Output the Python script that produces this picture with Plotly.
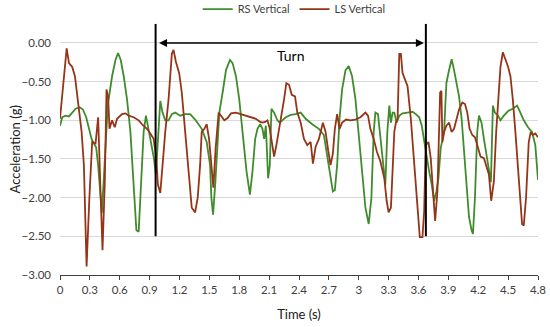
import plotly.graph_objects as go

# LS Vertical (brown)
ls_t = [0.0, 0.03, 0.067, 0.09, 0.123, 0.15, 0.18, 0.217, 0.24, 0.267, 0.295, 0.323, 0.357, 0.383,
        0.407, 0.427, 0.45, 0.467, 0.483, 0.497, 0.523, 0.55, 0.573, 0.6, 0.623, 0.657, 0.69, 0.74,
        0.79, 0.83, 0.873, 0.907, 0.94, 0.967, 0.983, 1.007, 1.023, 1.057, 1.09, 1.123, 1.14, 1.163,
        1.197, 1.223, 1.257, 1.29, 1.323, 1.357, 1.383, 1.407, 1.423, 1.45, 1.473, 1.497, 1.517, 1.54,
        1.563, 1.593, 1.617, 1.65, 1.683, 1.717, 1.767, 1.817, 1.867, 1.917, 1.967, 2.01, 2.033, 2.06,
        2.083, 2.105, 2.127, 2.15, 2.173, 2.2, 2.22, 2.25, 2.273, 2.3, 2.327, 2.36, 2.383, 2.417, 2.45,
        2.483, 2.517, 2.54, 2.567, 2.6, 2.64, 2.667, 2.693, 2.717, 2.74, 2.76, 2.783, 2.807, 2.833,
        2.873, 2.917, 2.967, 3.017, 3.067, 3.093, 3.117, 3.15, 3.183, 3.217, 3.257, 3.28, 3.3, 3.323,
        3.34, 3.357, 3.373, 3.39, 3.407, 3.423, 3.44, 3.467, 3.49, 3.523, 3.557, 3.59, 3.613, 3.64,
        3.657, 3.673, 3.7, 3.723, 3.747, 3.767, 3.79, 3.817, 3.83, 3.84, 3.857, 3.88, 3.907, 3.933,
        3.957, 3.98, 4.007, 4.04, 4.067, 4.09, 4.113, 4.14, 4.167, 4.19, 4.223, 4.257, 4.28, 4.307,
        4.33, 4.357, 4.38, 4.4, 4.423, 4.447, 4.473, 4.5, 4.523, 4.547, 4.573, 4.607, 4.64, 4.657,
        4.68, 4.707, 4.727, 4.747, 4.773, 4.8]
ls_v = [-0.98, -0.55, -0.07, -0.26, -0.31, -0.43, -0.73, -1.15, -1.58, -2.89, -2.0, -1.28, -1.30, -0.96,
        -1.92, -2.68, -1.79, -0.60, -0.69, -1.11, -1.00, -1.09, -0.98, -0.94, -0.92, -0.91, -0.94, -0.96,
        -1.00, -1.06, -1.11, -1.17, -1.24, -1.49, -1.83, -1.94, -1.66, -1.15, -0.73, -0.14, -0.09, -0.24,
        -0.39, -0.64, -1.15, -1.66, -2.13, -2.19, -2.00, -1.58, -1.15, -1.11, -1.05, -1.24, -1.58, -1.87,
        -1.36, -0.90, -0.94, -1.00, -0.97, -0.91, -0.90, -0.92, -0.94, -0.96, -0.98, -1.02, -1.03, -1.02,
        -1.00, -1.10, -1.28, -1.47, -1.32, -1.11, -1.00, -0.73, -0.52, -0.54, -0.67, -0.69, -0.90, -1.03, -1.24,
        -1.32, -1.28, -1.56, -1.34, -1.24, -1.03, -1.15, -1.39, -1.58, -1.43, -1.11, -0.92, -1.11, -1.03,
        -0.99, -1.00, -0.99, -0.96, -0.90, -0.94, -1.11, -1.24, -1.41, -1.53, -1.75, -2.04, -2.19, -2.13,
        -1.58, -1.15, -1.03, -0.98, -0.14, -0.14, -0.39, -0.47, -0.56, -0.98, -1.58, -2.17, -2.51, -2.51,
        -2.17, -1.32, -1.28, -1.49, -1.92, -2.30, -1.92, -0.64, -0.62, -1.28, -1.15, -1.07, -1.03, -1.15,
        -1.11, -0.98, -0.86, -0.77, -0.79, -0.90, -1.11, -1.19, -1.22, -1.32, -1.47, -1.49, -1.58, -1.70,
        -2.04, -1.79, -1.15, -0.73, -0.31, -0.12, -0.22, -0.31, -0.43, -0.73, -1.15, -1.79, -2.34, -2.36,
        -2.00, -1.28, -1.15, -1.19, -1.17, -1.22]

# RS Vertical (green)
rs_t = [0.0, 0.023, 0.057, 0.09, 0.123, 0.157, 0.197, 0.23, 0.263, 0.29, 0.317, 0.34, 0.363, 0.383,
        0.405, 0.42, 0.44, 0.46, 0.48, 0.523, 0.557, 0.583, 0.61, 0.64, 0.673, 0.707, 0.74, 0.767,
        0.79, 0.817, 0.84, 0.863, 0.89, 0.923, 0.943, 0.963, 0.99, 1.007, 1.03, 1.057, 1.09, 1.123,
        1.157, 1.207, 1.257, 1.307, 1.357, 1.423, 1.473, 1.507, 1.52, 1.537, 1.56, 1.59, 1.6, 1.633,
        1.667, 1.707, 1.733, 1.767, 1.8, 1.833, 1.873, 1.907, 1.933, 1.96, 1.983, 2.01, 2.033, 2.05,
        2.067, 2.09, 2.107, 2.123, 2.15, 2.183, 2.207, 2.233, 2.267, 2.317, 2.367, 2.417, 2.467, 2.533,
        2.6, 2.65, 2.683, 2.717, 2.74, 2.76, 2.783, 2.807, 2.833, 2.867, 2.9, 2.933, 2.967, 3.0, 3.033,
        3.067, 3.1, 3.127, 3.15, 3.167, 3.193, 3.223, 3.247, 3.267, 3.287, 3.307, 3.323, 3.34, 3.357,
        3.38, 3.407, 3.44, 3.49, 3.54, 3.573, 3.607, 3.633, 3.657, 3.68, 3.707, 3.733, 3.757, 3.78,
        3.8, 3.823, 3.857, 3.88, 3.907, 3.933, 3.957, 3.98, 4.007, 4.033, 4.057, 4.08, 4.107, 4.133,
        4.147, 4.167, 4.19, 4.207, 4.233, 4.257, 4.28, 4.307, 4.327, 4.347, 4.367, 4.4, 4.423, 4.457,
        4.5, 4.547, 4.59, 4.623, 4.657, 4.7, 4.74, 4.773, 4.8]
rs_v = [-1.07, -0.96, -0.94, -0.95, -0.90, -0.85, -0.83, -0.86, -0.96, -1.09, -1.24, -1.30, -1.35, -1.58,
        -2.00, -2.20, -1.75, -1.20, -0.80, -0.43, -0.22, -0.13, -0.22, -0.43, -0.73, -1.15, -1.79, -2.42,
        -2.44, -1.79, -1.15, -0.94, -1.11, -1.36, -1.49, -1.70, -1.15, -0.75, -0.90, -1.00, -1.00, -0.92,
        -0.90, -0.94, -0.92, -0.92, -0.99, -1.11, -1.28, -1.58, -2.00, -2.22, -1.80, -1.15, -0.90, -0.64,
        -0.35, -0.22, -0.26, -0.43, -0.73, -1.15, -1.66, -1.96, -1.66, -1.24, -1.11, -1.05, -1.11, -1.24,
        -1.07, -1.75, -1.58, -0.85, -0.90, -1.00, -1.03, -1.00, -0.96, -0.93, -0.92, -0.90, -0.98, -1.05,
        -1.11, -1.19, -1.45, -1.75, -1.92, -1.90, -1.58, -0.98, -0.60, -0.35, -0.30, -0.43, -0.73, -1.19, -1.70,
        -2.13, -2.34, -2.00, -1.15, -0.90, -0.92, -1.32, -1.58, -1.83, -1.15, -0.81, -1.03, -0.90, -0.90,
        -1.03, -0.94, -0.91, -0.90, -0.89, -0.92, -0.96, -1.07, -1.24, -1.45, -1.66, -1.83, -2.04, -1.92,
        -1.75, -1.36, -1.15, -0.52, -0.35, -0.21, -0.35, -0.52, -0.69, -0.98, -1.36, -1.79, -2.25, -2.42,
        -2.47, -2.00, -1.15, -0.94, -1.03, -1.24, -1.41, -1.60, -1.80, -0.81, -0.90, -0.94, -1.00, -0.94,
        -0.88, -0.85, -0.81, -0.90, -1.00, -1.09, -1.15, -1.32, -1.77]

x_ticks = [0, 0.3, 0.6, 0.9, 1.2, 1.5, 1.8, 2.1, 2.4, 2.7, 3, 3.3, 3.6, 3.9, 4.2, 4.5, 4.8]
x_labels = ["0", "0.3", "0.6", "0.9", "1.2", "1.5", "1.8", "2.1", "2.4", "2.7", "3", "3.3",
            "3.6", "3.9", "4.2", "4.5", "4.8"]
y_ticks = [0.0, -0.5, -1.0, -1.5, -2.0, -2.5, -3.0]
turn_start, turn_end = 0.96, 3.674
turn_label = "Turn"

FONT = "Lato, 'Open Sans', sans-serif"
GREEN = "#3f8c2c"
BROWN = "#963418"

fig = go.Figure()
fig.add_trace(go.Scatter(x=rs_t, y=rs_v, mode="lines", name="RS Vertical",
                         line=dict(color=GREEN, width=1.8)))
fig.add_trace(go.Scatter(x=ls_t, y=ls_v, mode="lines", name="LS Vertical",
                         line=dict(color=BROWN, width=1.8)))

for tx in (turn_start, turn_end):
    fig.add_shape(type="line", xref="x", yref="y", x0=tx, x1=tx, y0=-2.5, y1=0.25,
                  line=dict(color="black", width=2))

fig.add_annotation(x=turn_end - 0.02, y=0, ax=turn_start + 0.02, ay=0, xref="x", yref="y",
                   axref="x", ayref="y", text="", showarrow=True, arrowhead=2,
                   arrowside="end+start", arrowwidth=1.6, arrowsize=1, arrowcolor="black")
fig.add_annotation(x=(turn_start + turn_end) / 2, y=-0.16, xref="x", yref="y", text=turn_label,
                   showarrow=False, font=dict(size=14, color="black", family=FONT))
fig.add_annotation(x=-0.094, y=0.5, xref="paper", yref="paper", text="Acceleration (g)",
                   textangle=-90, showarrow=False, xanchor="center", yanchor="middle",
                   font=dict(size=13, color="#202020", family=FONT))

fig.update_layout(
    width=550, height=327,
    margin=dict(l=60, r=12, t=20, b=52),
    paper_bgcolor="white", plot_bgcolor="white",
    font=dict(family=FONT, color="#404040", size=11),
    showlegend=True,
    legend=dict(orientation="h", x=0.49, xanchor="center", yref="container", y=0.972,
                yanchor="middle", font=dict(size=11, color="#404040"),
                bgcolor="rgba(0,0,0,0)"),
    xaxis=dict(range=[0, 4.8], tickmode="array", tickvals=x_ticks, ticktext=x_labels,
               showgrid=False, zeroline=False, showline=True, linecolor="#404040", linewidth=1,
               ticks="outside", ticklen=4, tickcolor="#404040", automargin=False,
               title=dict(text="Time (s)", font=dict(size=13, color="#202020")),
               tickfont=dict(size=11.5, color="#404040")),
    yaxis=dict(range=[-3.0, 0.25], tickmode="array", tickvals=y_ticks, tickformat=".2f",
               showgrid=True, gridcolor="#d9d9d9", gridwidth=1, zeroline=False, showline=False,
               ticks="", ticklabelstandoff=8, automargin=False,
               tickfont=dict(size=11.5, color="#404040")),
)

fig.write_html("out.html", config={"displayModeBar": False},
               post_script="document.body.style.margin='0';")
